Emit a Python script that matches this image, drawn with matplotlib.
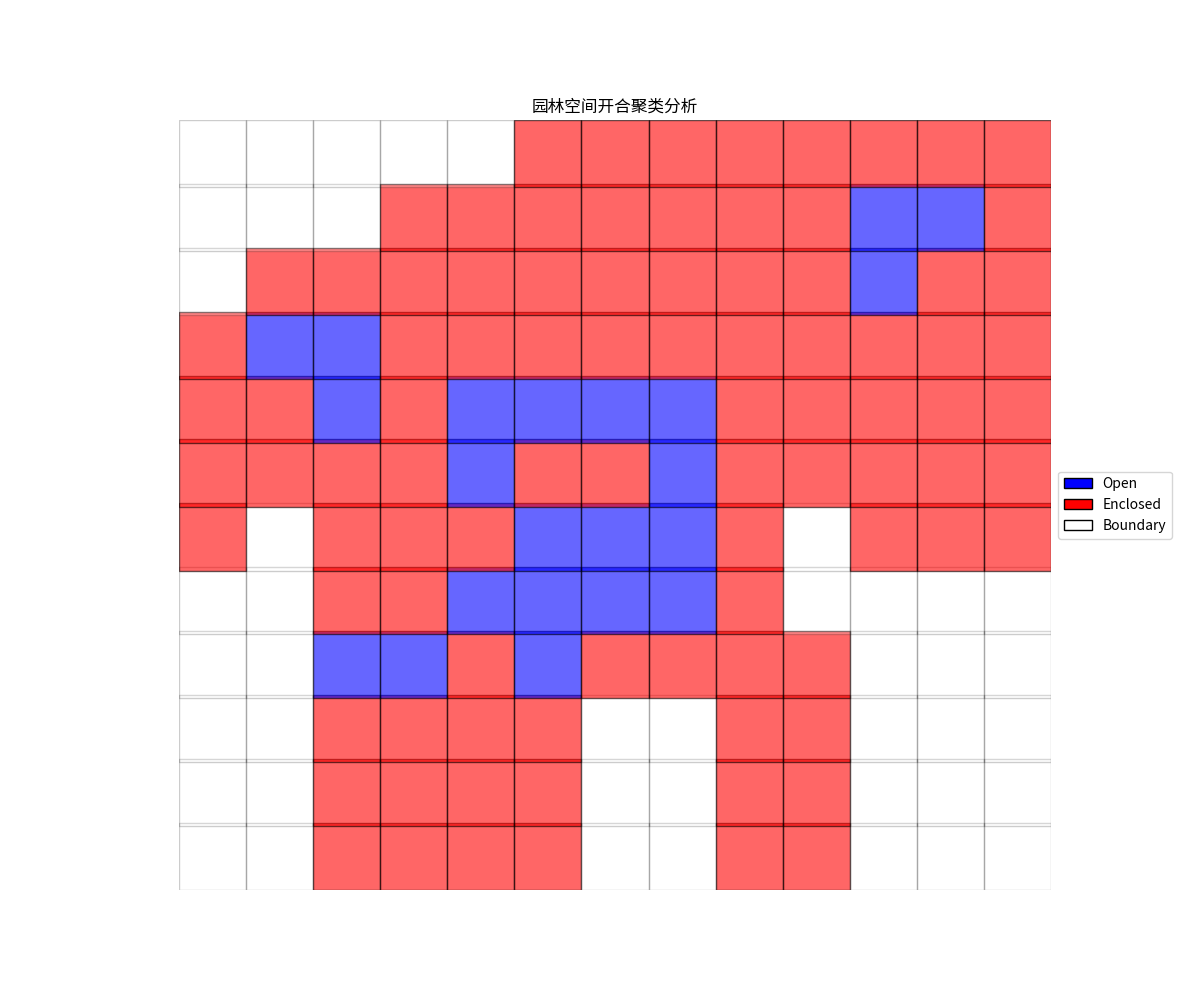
# Script Purpose: Grid map of open / enclosed / boundary cells for the
# garden space clustering result.

# Imports
import matplotlib
matplotlib.use("Agg")
import matplotlib.pyplot as plt
from matplotlib.patches import Rectangle, Patch

plt.rcParams['font.family'] = ['Noto Sans CJK SC', 'DejaVu Sans']

# Variables
title = "园林空间开合聚类分析"
labels = ["Open", "Enclosed", "Boundary"]
codes = ["O", "E", "B"]

# Cluster result, one string per row, top row first
grid_rows = [
    "BBBBBEEEEEEEE",
    "BBBEEEEEEEOOE",
    "BEEEEEEEEEOEE",
    "EOOEEEEEEEEEE",
    "EEOEOOOOEEEEE",
    "EEEEOEEOEEEEE",
    "EBEEEOOOEBEEE",
    "BBEEOOOOEBBBB",
    "BBOOEOEEEEBBB",
    "BBEEEEBBEEBBB",
    "BBEEEEBBEEBBB",
    "BBEEEEBBEEBBB",
]

face = {"O": "blue", "E": "red", "B": "white"}
alpha = {"O": 0.6, "E": 0.6, "B": 0.2}
row_step = 0.952


def main():
    fig, ax = plt.subplots(figsize=(12, 10), dpi=100)

    n_rows = len(grid_rows)
    n_cols = len(grid_rows[0])

    # Draw the bottom row first so upper rows sit on top
    for i in range(n_rows):
        row = grid_rows[n_rows - 1 - i]
        y = i * row_step
        for j, c in enumerate(row):
            ax.add_patch(Rectangle((j, y), 1, 1, facecolor=face[c],
                                   edgecolor="black", alpha=alpha[c]))

    ax.set_xlim(0, n_cols)
    ax.set_ylim(0, (n_rows - 1) * row_step + 1)
    ax.set_aspect("equal")
    ax.axis("off")
    ax.set_title(title)

    # Legend
    handles = [Patch(facecolor=face[c], edgecolor="black", label=l)
               for c, l in zip(codes, labels)]
    ax.legend(handles=handles, loc="center left", bbox_to_anchor=(1, 0.5))

    plt.savefig("out.png")


if __name__ == "__main__":
    main()
